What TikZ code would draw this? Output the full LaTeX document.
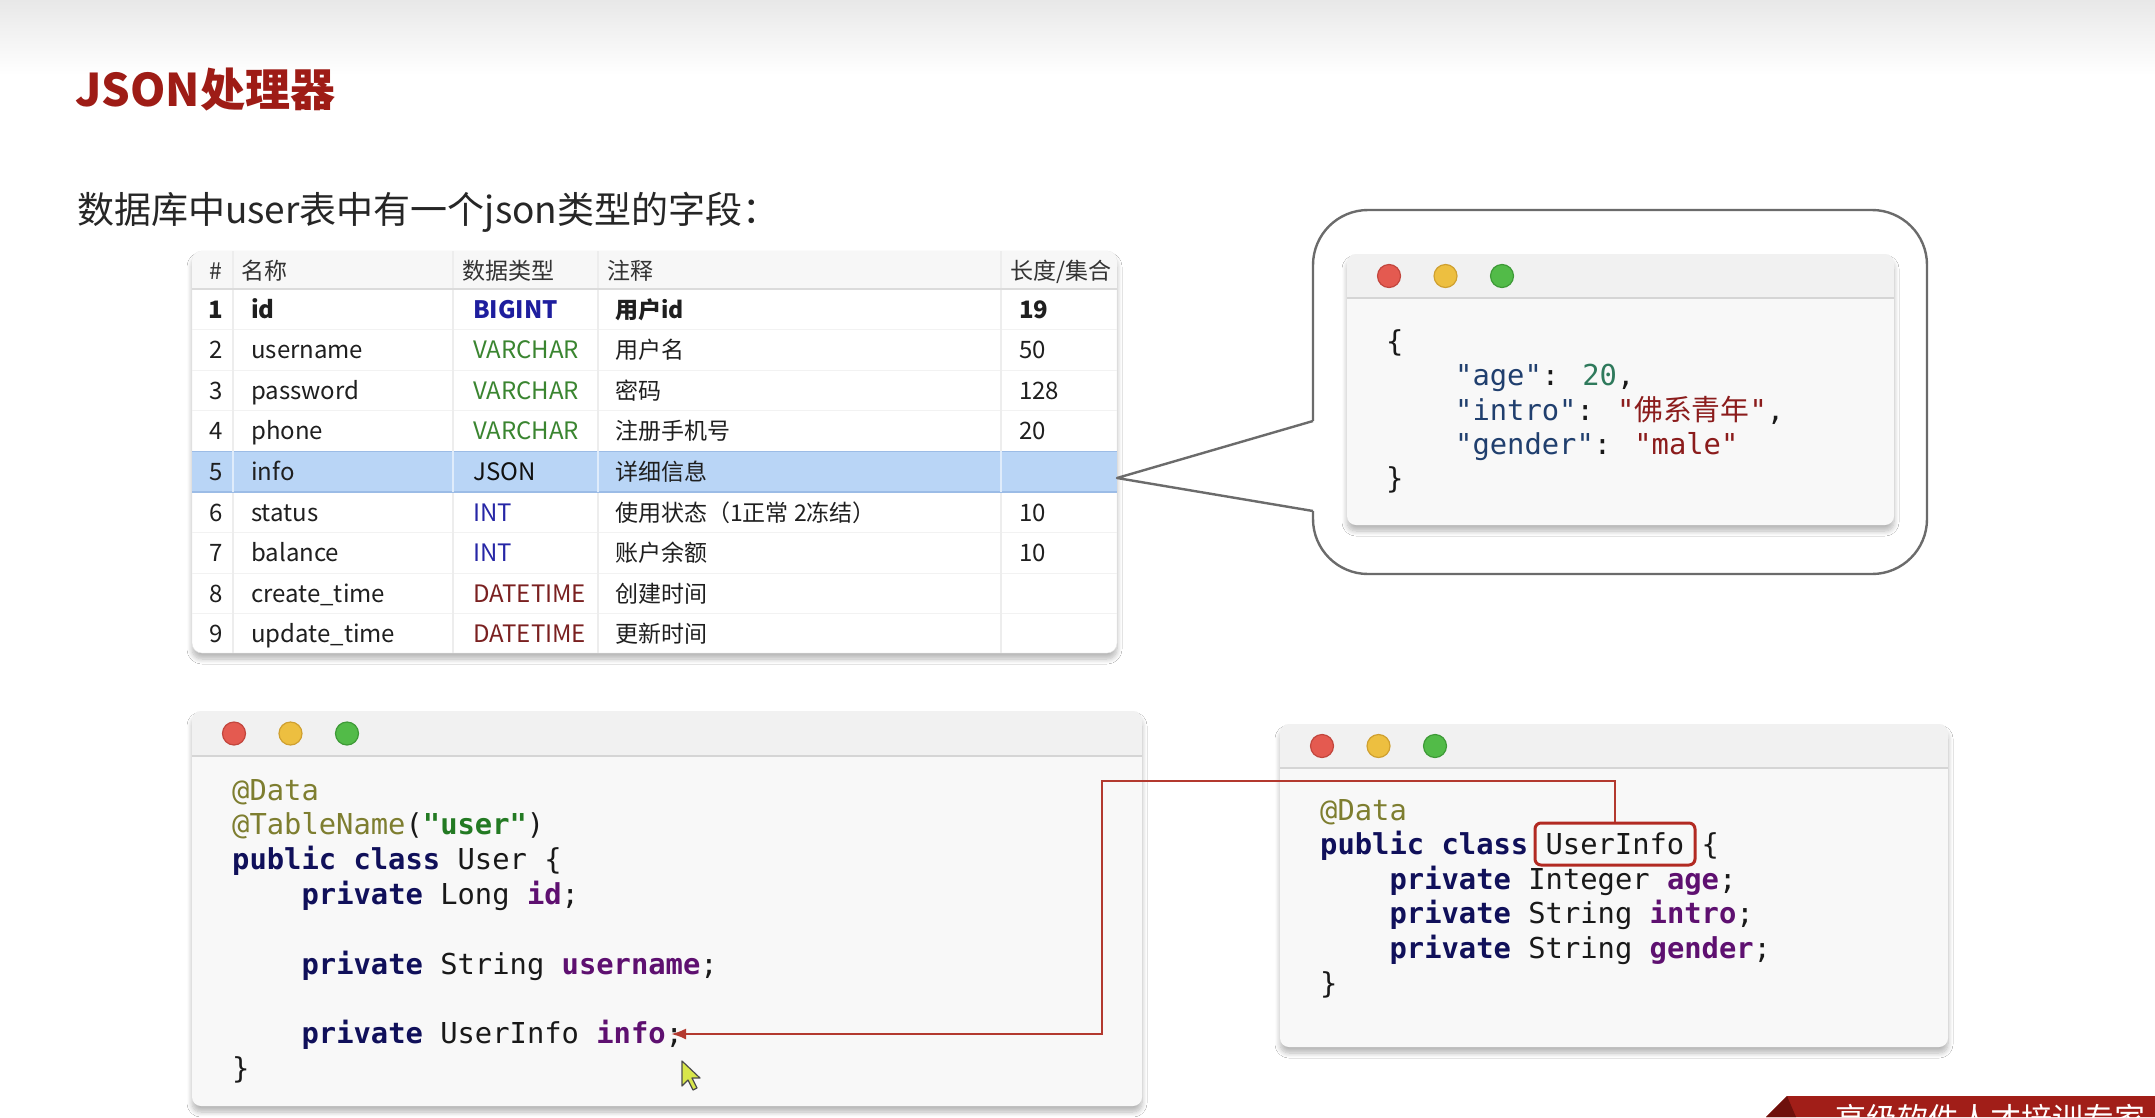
\documentclass[tikz,border=0pt]{standalone}
\usepackage{fontspec}
\newfontfamily\cjk{Noto Sans CJK SC}
\newfontfamily\code{DejaVu Sans Mono}
\usetikzlibrary{arrows.meta,shadows.blur}
\definecolor{titlered}{HTML}{9E1C16}
\definecolor{jkey}{HTML}{203F6E}
\definecolor{jnum}{HTML}{2F7A5C}
\definecolor{jstr}{HTML}{8B1C1C}
\definecolor{annot}{HTML}{7E7E30}
\definecolor{kw}{HTML}{10105A}
\definecolor{fld}{HTML}{5E1070}
\definecolor{strg}{HTML}{237A23}
\definecolor{tbig}{HTML}{1E1E9E}
\definecolor{tvar}{HTML}{3A8530}
\definecolor{tint}{HTML}{2626A6}
\definecolor{tdate}{HTML}{7A2020}
\definecolor{tjson}{HTML}{111111}
\definecolor{hl}{HTML}{B9D5F6}
\definecolor{hlb}{HTML}{9CBCE6}
\definecolor{boxred}{HTML}{B22A22}
\definecolor{arrred}{HTML}{B3392F}
\definecolor{winbg}{HTML}{F8F8F8}
\definecolor{titlebg}{HTML}{F1F1F1}
\definecolor{sepc}{HTML}{D5D5D5}
\definecolor{dotr}{HTML}{E45A50}
\definecolor{dotrb}{HTML}{C2463D}
\definecolor{doty}{HTML}{EDBF40}
\definecolor{dotyb}{HTML}{CFA030}
\definecolor{dotg}{HTML}{52BB48}
\definecolor{dotgb}{HTML}{3E9A37}
\definecolor{bubc}{HTML}{6B6B6B}
\definecolor{cursorc}{HTML}{D8E64A}
\definecolor{bannerred}{HTML}{A11E18}
\definecolor{bannerdark}{HTML}{6E100C}
\newcommand\macwin[6]{%
  \fill[winbg, rounded corners=9, softshadow] (#2,#3) rectangle (#4,#5);
  \begin{scope}
    \clip[rounded corners=9] (#2,#3) rectangle (#4,#5);
    \fill[titlebg] (#2,#3) rectangle (#4,#6);
  \end{scope}
  \draw[sepc, line width=2.5] (#2,#6) -- (#4,#6);
  \pgfmathsetmacro\mwdy{(#3+#6)/2}
  \node[dotn, fill=dotr, draw=dotrb] (#1r) at ({#2+42},\mwdy) {};
  \node[dotn, fill=doty, draw=dotyb] (#1y) at ({#2+98.5},\mwdy) {};
  \node[dotn, fill=dotg, draw=dotgb] (#1g) at ({#2+155},\mwdy) {};
}
\begin{document}
\begin{tikzpicture}[x=1pt,y=-1pt,
  softshadow/.style={blur shadow={shadow xshift=0pt, shadow yshift=-6pt, shadow blur radius=5pt, shadow blur steps=8, shadow opacity=28}},
  dotn/.style={circle, minimum size=23, inner sep=0, line width=1.2},
  codeline/.style={anchor=base west, inner sep=0, font=\fontsize{28.8}{34}\selectfont\code, text=black!90},
  tcell/.style={anchor=west, inner sep=0, text height=18, text depth=0},
  thead/.style={anchor=west, inner sep=0, text height=17, text depth=0, font=\fontsize{23}{27}\selectfont\cjk, text=black!80},
  bubbleline/.style={draw=bubc, line width=2.4, line join=round},
  redarrow/.style={draw=arrred, line width=2.2, -{Latex[length=15,width=11]}}]
\useasboundingbox (0,0) rectangle (2155,1117);
\clip (0,0) rectangle (2155,1117);
\fill[white] (0,0) rectangle (2155,1117);
\shade[top color=black!9, bottom color=white] (0,0) rectangle (2155,75);

% title
\node[anchor=base west, inner sep=0, font=\fontsize{45}{52}\selectfont\cjk\bfseries, text=titlered] (title) at (75,106) {JSON处理器};
\node[anchor=base west, inner sep=0, font=\fontsize{37}{44}\selectfont\cjk, text=black!85] (sub) at (77,223) {数据库中user表中有一个json类型的字段：};

% table
\fill[white, draw=black!10, rounded corners=10, softshadow] (192,251) rectangle (1117,653);
\begin{scope}
  \clip[rounded corners=10] (192,251) rectangle (1117,653);
  \fill[black!3] (192,251) rectangle (1117,289);
  \foreach \k in {1,...,8} {
    \pgfmathsetmacro\yb{289+\k*40.6}
    \draw[black!5, line width=1] (192,\yb) -- (1117,\yb);
  }
  \foreach \xx in {233,453,598,1001} \draw[black!7, line width=1.5] (\xx,251) -- (\xx,653);
  \fill[hl] (192,451.4) rectangle (1117,492);
  \draw[hlb, line width=1.5] (192,451.4) -- (1117,451.4) (192,492) -- (1117,492);
  \foreach \xx in {233,453,598,1001} \draw[white!55!hl, line width=2] (\xx,451.4) -- (\xx,492);
  \draw[black!14, line width=1.5] (192,289) -- (1117,289);
\end{scope}
\node[thead, anchor=center] (hh) at (216,271) {\#};
\node[thead] (hn) at (241,271) {名称};
\node[thead] (ht) at (462,271) {数据类型};
\node[thead] (hc) at (607,271) {注释};
\node[thead] (hl) at (1010,271) {长度/集合};
\foreach \i/\nm/\ty/\tc/\tb/\cm/\ln/\bb in {
  1/id/BIGINT/tbig/\bfseries/用户id/19/\bfseries,
  2/username/VARCHAR/tvar/\mdseries/用户名/50/\mdseries,
  3/password/VARCHAR/tvar/\mdseries/密码/128/\mdseries,
  4/phone/VARCHAR/tvar/\mdseries/注册手机号/20/\mdseries,
  5/info/JSON/tjson/\mdseries/详细信息//\mdseries,
  6/status/INT/tint/\mdseries/使用状态（1正常 2冻结）/10/\mdseries,
  7/balance/INT/tint/\mdseries/账户余额/10/\mdseries,
  8/create\_time/DATETIME/tdate/\mdseries/创建时间//\mdseries,
  9/update\_time/DATETIME/tdate/\mdseries/更新时间//\mdseries} {
  \pgfmathsetmacro\yy{309+(\i-1)*40.6}
  \node[tcell, anchor=center, font=\fontsize{24}{28}\selectfont\cjk\bb, text=black!88] (r\i) at (216,\yy) {\i};
  \node[tcell, font=\fontsize{24}{28}\selectfont\cjk\bb, text=black!88] (n\i) at (251,\yy) {\nm};
  \node[tcell, font=\fontsize{24}{28}\selectfont\cjk\tb, text=\tc] (t\i) at (473,\yy) {\ty};
  \node[tcell, font=\fontsize{23}{28}\selectfont\cjk\bb, text=black!88] (c\i) at (615,\yy) {\cm};
  \node[tcell, font=\fontsize{24}{28}\selectfont\cjk\bb, text=black!88] (l\i) at (1019,\yy) {\ln};
}

% speech bubble
\draw[bubbleline, rounded corners=55] (1313,210) rectangle (1927,574);
\fill[white] (1309,421) rectangle (1317,511);
\coordinate (tip) at (1117,478);
\coordinate (bp1) at (1313,421);
\coordinate (bp2) at (1313,511);
\draw[bubbleline] (bp1) -- (tip) -- (bp2);

% json window
\macwin{jw}{1347}{254}{1894}{525}{298}
\node[codeline] (j0) at (1386,351) {\{};
\node[codeline] (j1) at (1455,385) {{\color{jkey}"age"}: {\color{jnum}20},};
\node[codeline] (j2) at (1455,420) {{\color{jkey}"intro"}: {\color{jstr}"{\cjk 佛系青年}"},};
\node[codeline] (j3) at (1455,454) {{\color{jkey}"gender"}: {\color{jstr}"male"}};
\node[codeline] (j4) at (1386,488) {\}};

% user window
\macwin{uw}{192}{711}{1142}{1106}{756}
\node[codeline] (u0) at (232,800) {{\color{annot}@Data}};
\node[codeline] (u1) at (232,834.8) {{\color{annot}@TableName}({\color{strg}\bfseries"user"})};
\node[codeline] (u2) at (232,869.6) {{\color{kw}\bfseries public class} User \{};
\node[codeline] (u3) at (301.4,904.4) {{\color{kw}\bfseries private} Long {\color{fld}\bfseries id};};
\node[codeline] (u4) at (301.4,974) {{\color{kw}\bfseries private} String {\color{fld}\bfseries username};};
\node[codeline] (u5) at (301.4,1043.6) {{\color{kw}\bfseries private} UserInfo {\color{fld}\bfseries info};};
\node[codeline] (u6) at (232,1078.4) {\}};

% userinfo window
\macwin{vw}{1280}{724}{1948}{1047}{768}
\node[codeline] (v0) at (1320,820) {{\color{annot}@Data}};
\node[codeline] (v1) at (1320,854.6) {{\color{kw}\bfseries public class} UserInfo \{};
\node[codeline] (v2) at (1389.4,889.2) {{\color{kw}\bfseries private} Integer {\color{fld}\bfseries age};};
\node[codeline] (v3) at (1389.4,923.8) {{\color{kw}\bfseries private} String {\color{fld}\bfseries intro};};
\node[codeline] (v4) at (1389.4,958.4) {{\color{kw}\bfseries private} String {\color{fld}\bfseries gender};};
\node[codeline] (v5) at (1320,993) {\}};
\node[draw=boxred, line width=3, rounded corners=6, minimum width=160, minimum height=42, inner sep=0] (ubox) at (1615,844) {};

% red connector
\coordinate (bend) at (1102,781);
\coordinate (infotip) at (671,1034);
\draw[redarrow] (ubox.north) |- (bend) |- (infotip);

% mouse cursor
\draw[fill=cursorc, draw=black!70, line width=1.2, line join=round] (682,1061) -- ++(0,25) -- ++(6,-6) -- ++(5,10) -- ++(4,-2) -- ++(-5,-10) -- ++(8,0) -- cycle;

% banner
\fill[bannerred] (1766,1117) -- (1787,1096) -- (2155,1096) -- (2155,1117) -- cycle;
\fill[bannerdark] (1766,1117) -- (1787,1096) -- (1796,1117) -- cycle;
\node[anchor=base west, inner sep=0, font=\fontsize{31}{36}\selectfont\cjk, text=white] (brand) at (1835,1130) {高级软件人才培训专家};
\end{tikzpicture}
\end{document}
